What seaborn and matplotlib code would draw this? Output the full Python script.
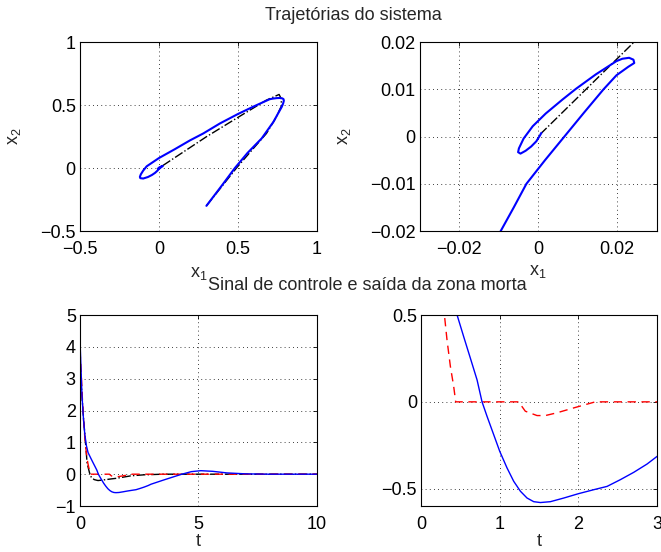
import numpy as np
import pandas as pd
import matplotlib
matplotlib.use("Agg")
import matplotlib.pyplot as plt
import seaborn as sns
from matplotlib.ticker import FuncFormatter

# phase-plane trajectory (x1, x2)
blue_x1 = [0.30, 0.40, 0.48, 0.56, 0.65, 0.724, 0.777, 0.786, 0.79, 0.788, 0.78, 0.765,
           0.745, 0.72, 0.70, 0.60, 0.50, 0.386, 0.28, 0.196, 0.10, 0.0, -0.078,
           -0.10, -0.115, -0.121, -0.118, -0.10, -0.07, -0.045, -0.025,
           -0.0095, -0.0062, -0.0030, 0.0017, 0.0066, 0.0115, 0.0165, 0.0198, 0.0228,
           0.0243, 0.0241, 0.023, 0.0213, 0.0198, 0.0146, 0.0095, 0.0062, 0.0019,
           -0.0014, -0.0037, -0.0049, -0.0051, -0.0045, -0.0032, -0.0018, -0.0005,
           0.0004, 0.0008]
blue_x2 = [-0.30, -0.135, 0.0, 0.12, 0.236, 0.367, 0.487, 0.515, 0.535, 0.548, 0.554, 0.557,
           0.556, 0.552, 0.547, 0.49, 0.43, 0.355, 0.275, 0.22, 0.15, 0.08, 0.014,
           -0.02, -0.05, -0.07, -0.08, -0.083, -0.071, -0.055, -0.038,
           -0.02, -0.015, -0.01, -0.005, 0.0, 0.005, 0.01, 0.013, 0.0148,
           0.0156, 0.0163, 0.0167, 0.0165, 0.016, 0.0132, 0.0101, 0.0079, 0.0049,
           0.0022, -0.0004, -0.0025, -0.0033, -0.0036, -0.003, -0.0021, -0.001,
           0.0002, 0.0008]

black_x1 = [0.30, 0.49, 0.60, 0.68, 0.74, 0.777, 0.77, 0.76, 0.68, 0.513, 0.30, 0.023, 0.0005]
black_x2 = [-0.30, 0.0, 0.16, 0.275, 0.40, 0.50, 0.56, 0.585, 0.54, 0.413, 0.249, 0.019, 0.0005]

# control signal (blue), dead-zone output (red) and reference signal (black)
t_blue = [0.0, 0.03, 0.08, 0.14, 0.20, 0.27, 0.34, 0.458, 0.542, 0.627, 0.712, 0.775,
          0.839, 0.924, 1.0, 1.093, 1.178, 1.263, 1.347, 1.432, 1.517, 1.644, 1.814,
          2.0, 2.195, 2.364, 2.534, 2.703, 2.873, 3.0, 3.5, 4.0, 4.3, 4.7, 5.1, 5.6,
          6.2, 7.0, 8.0, 10.0]
u_blue = [4.22, 3.6, 2.54, 1.81, 1.27, 0.9, 0.68, 0.5, 0.375, 0.251, 0.126, 0.0,
          -0.084, -0.19, -0.285, -0.381, -0.458, -0.515, -0.554, -0.575, -0.58, -0.575, -0.554,
          -0.529, -0.506, -0.487, -0.448, -0.406, -0.358, -0.314, -0.19, -0.07, 0.0, 0.08,
          0.11, 0.09, 0.04, 0.01, 0.0, 0.0]

t_red = [0.0, 0.05, 0.10, 0.15, 0.20, 0.25, 0.297, 0.33, 0.373, 0.415, 0.44, 1.24, 1.325,
         1.474, 1.58, 1.728, 1.94, 2.215, 10.0]
u_red = [3.9, 3.2, 2.4, 1.7, 1.2, 0.8, 0.5, 0.356, 0.203, 0.088, 0.0, 0.0, -0.054,
         -0.079, -0.079, -0.063, -0.035, 0.0, 0.0]

t_black = [0.0, 0.05, 0.10, 0.15, 0.20, 0.30, 0.40, 0.48, 0.60, 0.76, 1.0, 1.3, 1.53,
           2.16, 2.7, 3.5, 10.0]
u_black = [3.5, 2.9, 2.3, 1.75, 1.3, 0.35, 0.05, -0.1, -0.17, -0.2, -0.18, -0.15, -0.13,
           -0.05, -0.02, 0.0, 0.0]

sns.set_style("white")
plt.rcParams["font.family"] = ["Liberation Sans", "DejaVu Sans"]
plt.rcParams["font.size"] = 13
plt.rcParams["mathtext.fontset"] = "custom"
plt.rcParams["mathtext.rm"] = "Liberation Sans"
plt.rcParams["mathtext.default"] = "regular"

fig = plt.figure(figsize=(6.61, 5.52), dpi=100)
ax1 = fig.add_axes([0.121, 0.5815, 0.3586, 0.342])
ax2 = fig.add_axes([0.635, 0.5815, 0.3586, 0.342])
ax3 = fig.add_axes([0.121, 0.0833, 0.3586, 0.346])
ax4 = fig.add_axes([0.637, 0.0833, 0.3571, 0.346])

phase_b = pd.DataFrame({"x1": blue_x1, "x2": blue_x2})
phase_k = pd.DataFrame({"x1": black_x1, "x2": black_x2})
sig_b = pd.DataFrame({"t": t_blue, "u": u_blue})
sig_r = pd.DataFrame({"t": t_red, "u": u_red})
sig_k = pd.DataFrame({"t": t_black, "u": u_black})

for ax in (ax1, ax2):
    sns.lineplot(data=phase_k, x="x1", y="x2", sort=False, estimator=None, ax=ax,
                 color="black", lw=1.0, linestyle="-.")
    sns.lineplot(data=phase_b, x="x1", y="x2", sort=False, estimator=None, ax=ax,
                 color="#0000ff", lw=1.5)

sns.lineplot(data=sig_k, x="t", y="u", sort=False, estimator=None, ax=ax3,
             color="black", lw=1.0, linestyle="-.")
for ax in (ax3, ax4):
    sns.lineplot(data=sig_r, x="t", y="u", sort=False, estimator=None, ax=ax,
                 color="#ff0000", lw=1.0, dashes=(6, 4))
    sns.lineplot(data=sig_b, x="t", y="u", sort=False, estimator=None, ax=ax,
                 color="#0000ff", lw=1.0)


def fmt(v, pos):
    s = "%g" % v
    return s.replace("-", "\u2212")


ax1.set_xlim(-0.5, 1)
ax1.set_ylim(-0.5, 1)
ax1.set_xticks([-0.5, 0, 0.5, 1])
ax1.set_yticks([-0.5, 0, 0.5, 1])

ax2.set_xlim(-0.03, 0.03)
ax2.set_ylim(-0.02, 0.02)
ax2.set_xticks([-0.02, 0, 0.02])
ax2.set_yticks([-0.02, -0.01, 0, 0.01, 0.02])

ax3.set_xlim(0, 10)
ax3.set_ylim(-1, 5)
ax3.set_xticks([0, 5, 10])
ax3.set_yticks([-1, 0, 1, 2, 3, 4, 5])

ax4.set_xlim(0, 3)
ax4.set_ylim(-0.6, 0.5)
ax4.set_xticks([0, 1, 2, 3])
ax4.set_yticks([-0.5, 0, 0.5])

for ax in (ax1, ax2, ax3, ax4):
    ax.xaxis.set_major_formatter(FuncFormatter(fmt))
    ax.yaxis.set_major_formatter(FuncFormatter(fmt))
    ax.grid(True, color="black", linestyle=(0, (1, 4)), lw=0.6)
    ax.tick_params(direction="in", length=3, width=0.6, top=True, right=True,
                   labelsize=13, colors="black")
    ax.tick_params(axis="x", pad=7)
    ax.tick_params(axis="y", pad=3)
    for sp in ax.spines.values():
        sp.set_visible(True)
        sp.set_color("black")
        sp.set_linewidth(0.8)
    ax.set_xlabel("")
    ax.set_ylabel("")

ax1.set_xlabel("x$_1$", fontsize=13)
ax1.set_ylabel("x$_2$", fontsize=13)
ax2.set_xlabel("x$_1$", fontsize=13)
ax2.set_ylabel("x$_2$", fontsize=13)
ax3.set_xlabel("t", fontsize=13)
ax4.set_xlabel("t", fontsize=13)
ax1.xaxis.set_label_coords(0.5, -0.18)
ax2.xaxis.set_label_coords(0.5, -0.17)
ax1.yaxis.set_label_coords(-0.24, 0.5)
ax2.yaxis.set_label_coords(-0.28, 0.5)
ax3.xaxis.set_label_coords(0.5, -0.14)
ax4.xaxis.set_label_coords(0.5, -0.14)

fig.text(0.534, 0.9638, "Trajet\u00f3rias do sistema", ha="center", va="baseline", fontsize=13)
fig.text(0.555, 0.4746, "Sinal de controle e sa\u00edda da zona morta", ha="center",
         va="baseline", fontsize=13)

fig.savefig("out.png", dpi=100, facecolor="white")
